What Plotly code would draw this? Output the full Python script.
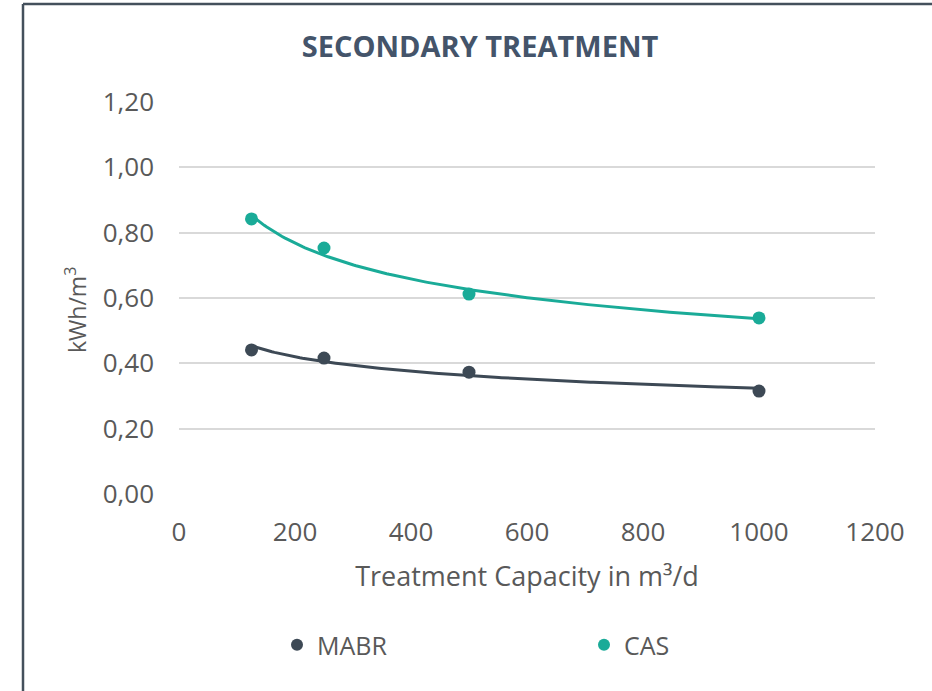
import numpy as np
import plotly.graph_objects as go

# Data
capacity = [125, 250, 500, 1000]
mabr = [0.441, 0.416, 0.373, 0.315]
cas = [0.842, 0.753, 0.612, 0.539]
x_ticks = [0, 200, 400, 600, 800, 1000, 1200]
y_ticks = [0.0, 0.2, 0.4, 0.6, 0.8, 1.0, 1.2]

MABR_COLOR = "#3d4955"
CAS_COLOR = "#1aab98"
TEXT_COLOR = "#595959"
FONT = "Open Sans, Noto Sans, sans-serif"


def power_trend(xs, ys, n=200):
    # Excel-style power trendline: y = a * x^b, fitted in log space
    lx, ly = np.log(xs), np.log(ys)
    b, ln_a = np.polyfit(lx, ly, 1)
    xt = np.linspace(min(xs), max(xs), n)
    return xt, np.exp(ln_a) * xt ** b


fig = go.Figure()

for name, ys, col in [("MABR", mabr, MABR_COLOR), ("CAS", cas, CAS_COLOR)]:
    xt, yt = power_trend(capacity, ys)
    fig.add_trace(go.Scatter(
        x=xt, y=yt, mode="lines", line=dict(color=col, width=3),
        showlegend=False, hoverinfo="skip"))
    fig.add_trace(go.Scatter(
        x=capacity, y=ys, mode="markers", name=name,
        marker=dict(color=col, size=13)))

# body margin is removed in the page, so figure pixels == screen pixels
W, H = 932, 691
L, R, T, B = 179, 932 - 875, 102, 691 - 494
pw, ph = W - L - R, H - T - B


def px_x(p):
    return (p - L) / pw


def px_y(p):
    return 1 - (p - T) / ph


frame_color = "#44505c"
fig.add_shape(type="line", xref="paper", yref="paper",
              x0=px_x(23), x1=px_x(950), y0=px_y(4), y1=px_y(4),
              line=dict(color=frame_color, width=2.5))
fig.add_shape(type="line", xref="paper", yref="paper",
              x0=px_x(23), x1=px_x(23), y0=px_y(4), y1=px_y(710),
              line=dict(color=frame_color, width=2.5))

fig.add_annotation(text="kWh/m<sup>3</sup>", textangle=-90,
                   xref="paper", yref="paper", x=px_x(76), y=px_y(310),
                   xanchor="center", yanchor="middle", showarrow=False,
                   font=dict(family=FONT, size=23, color=TEXT_COLOR))

fig.update_layout(
    width=W, height=H,
    margin=dict(l=L, r=R, t=T, b=B),
    paper_bgcolor="white", plot_bgcolor="white",
    separators=",.",
    font=dict(family=FONT, color=TEXT_COLOR, size=26),
    title=dict(text="<b>SECONDARY TREATMENT</b>",
               font=dict(family=FONT, size=29, color="#44546a"),
               x=480 / W, xanchor="center",
               y=1 - 47 / H, yanchor="middle"),
    xaxis=dict(range=[0, 1200], tickvals=x_ticks, tickformat="d",
               showgrid=False, zeroline=False, showline=False,
               ticklabelstandoff=20,
               tickfont=dict(size=26, color=TEXT_COLOR),
               title=dict(text="Treatment Capacity in m³/d", standoff=19,
                          font=dict(size=27, color=TEXT_COLOR))),
    yaxis=dict(range=[0, 1.2], tickvals=y_ticks, tickformat=".2f",
               showgrid=True, gridcolor="#d9d9d9", gridwidth=1.5,
               zeroline=False, showline=False,
               ticklabelstandoff=24,
               tickfont=dict(size=26, color=TEXT_COLOR)),
    legend=dict(orientation="h", x=0.5 + 57 / pw, xanchor="center",
                y=px_y(645), yanchor="middle",
                font=dict(size=25, color=TEXT_COLOR),
                entrywidth=262, entrywidthmode="pixels",
                itemsizing="constant"),
)

fig.write_html("out.html",
               config={"displayModeBar": False},
               post_script="document.body.style.margin='0';")
